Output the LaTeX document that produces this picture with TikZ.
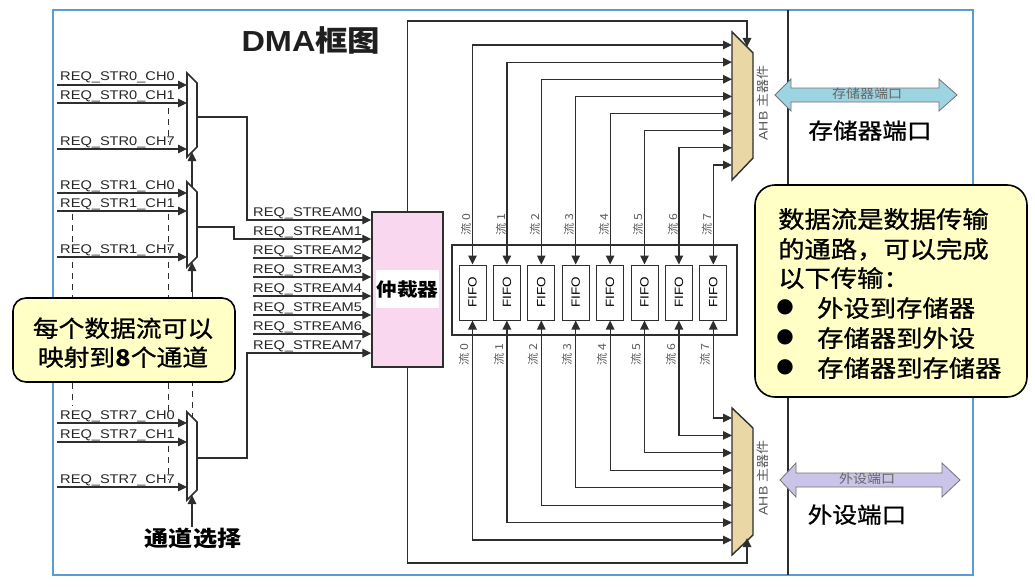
\documentclass[tikz,border=0pt]{standalone}
\usepackage{fontspec}
\setmainfont{Liberation Sans}
\newfontfamily\cjk{Noto Sans CJK SC}
\newfontfamily\cjkm[FakeBold=0.9]{Noto Sans CJK SC}
\newfontfamily\dejavu{DejaVu Sans}
\usetikzlibrary{arrows.meta,calc}
\definecolor{frameblue}{HTML}{5B9BD5}
\definecolor{arbpink}{HTML}{F9D7EE}
\definecolor{ahbtan}{HTML}{E9D7A6}
\definecolor{noteyellow}{HTML}{FFFFC6}
\definecolor{portblue}{HTML}{9DD4E2}
\definecolor{portlav}{HTML}{C9C4E8}
\definecolor{wirec}{HTML}{2E2E2E}
\definecolor{lblc}{HTML}{5A5A5A}
\newcommand\hs[1]{\scalebox{1.12}[1]{#1}}
\newcommand\reqs[1]{\scalebox{1.16}[1]{#1}}
\begin{document}
\begin{tikzpicture}[x=1pt,y=-1pt,
  wire/.style={draw=wirec, line width=1.2pt},
  arr/.style={wire, -{Triangle[length=9pt,width=8.5pt]}},
  barr/.style={wire, {Triangle[length=9pt,width=8.5pt]}-{Triangle[length=9pt,width=8.5pt]}},
  dsh/.style={draw=wirec, line width=1pt, dash pattern=on 6pt off 5pt},
  req/.style={inner sep=0pt, anchor=base west, text=black!85, font=\fontsize{12.6}{14}\selectfont},
  muxst/.style={draw=wirec, fill=white, line width=1.6pt},
  fifo/.style={draw=wirec, fill=white, line width=1pt, minimum width=27pt, minimum height=55pt, inner sep=0pt, font=\fontsize{12}{13}\selectfont},
  slbl/.style={inner sep=0pt, text=lblc, font=\cjk\fontsize{11}{12}\selectfont},
  note/.style={draw=black, fill=noteyellow, line width=1.6pt},
  cjkline/.style={inner sep=0pt, anchor=base west, text=black, font=\cjkm\fontsize{23.5}{26}\selectfont},
]
\useasboundingbox (0,0) rectangle (1035,586);
\fill[white] (0,0) rectangle (1035,586);
% frame
\draw[frameblue, line width=2pt] (53,10) rectangle (973,575);
\draw[wirec, line width=1.4pt] (788,10) -- (788,575);
% title
\node[anchor=base, inner sep=0pt, text=black!88] (title) at (311,52)
  {\hs{\fontsize{29}{30}\selectfont\bfseries DMA\cjk 框图}};

% ---------- channel multiplexers ----------
\draw[muxst] (187,73) -- (197,83) -- (197,147) -- (187,157) -- cycle;
\draw[muxst] (187,182) -- (197,192) -- (197,257) -- (187,267) -- cycle;
\draw[muxst] (187,412) -- (197,422) -- (197,490) -- (187,500) -- cycle;
\coordinate (m0out) at (197,117);
\coordinate (m1out) at (197,227);
\coordinate (m7out) at (197,458);

% inputs
\foreach \y/\t in {85/REQ\_STR0\_CH0, 103/REQ\_STR0\_CH1, 149/REQ\_STR0\_CH7,
                   193/REQ\_STR1\_CH0, 211/REQ\_STR1\_CH1, 257/REQ\_STR1\_CH7,
                   423/REQ\_STR7\_CH0, 442/REQ\_STR7\_CH1, 487/REQ\_STR7\_CH7}{
  \coordinate (in\y) at (57,\y);
  \coordinate (mx\y) at (187,\y);
  \draw[arr] (in\y) -- (mx\y);
  \node[req] (lab\y) at (60,{\y-4}) {\reqs{\t}};
}
% dashed continuation marks
\draw[dsh] (168,108) -- (168,142);
\draw[dsh] (168,214) -- (168,250);
\draw[dsh] (168,262) -- (168,415);
\draw[dsh] (168,446) -- (168,480);
\draw[dsh] (72,214) -- (72,242);
\draw[dsh] (72,262) -- (72,406);
% channel select
\coordinate (sel0) at (192,152);
\coordinate (sel1) at (192,262);
\coordinate (sel7) at (192,495);
\coordinate (m1top) at (192,187);
\coordinate (m7top) at (192,417);
\coordinate (selmid) at (192,292);
\coordinate (selbot) at (192,527);
\draw[arr] (m1top) -- (sel0);
\draw[arr] (selmid) -- (sel1);
\draw[dsh] (selmid) -- (m7top);
\draw[arr] (selbot) -- (sel7);
\node[anchor=base, inner sep=0pt, font=\cjk\bfseries\fontsize{21.5}{22}\selectfont] (selname) at (193,546) {\hs{通道选择}};

% ---------- arbiter ----------
\node[draw=wirec, fill=arbpink, line width=1.4pt, minimum width=71pt, minimum height=155pt, inner sep=0pt] (arb) at (407.5,289.5) {};
\node[fill=white, minimum width=61pt, minimum height=38pt, inner sep=0pt, font=\cjk\bfseries\fontsize{18.5}{19}\selectfont] (arbtxt) at (407.5,289) {\hs{仲裁器}};

\foreach \i in {0,...,7}{
  \pgfmathsetmacro\yy{220+19*\i}
  \node[req, font=\fontsize{12.6}{14}\selectfont] (rs\i) at (253,{\yy-4}) {\reqs{REQ\_STREAM\i}};
  \coordinate (arbin\i) at (arb.west |- 0,\yy);
}
\draw[arr] (m0out) -- (247,117) -- (247,220) -- (arbin0);
\draw[arr] (m1out) -- (234,227) -- (234,239) -- (arbin1);
\draw[arr] (m7out) -- (247,458) -- (247,353) -- (arbin7);
\foreach \i in {2,...,6}{
  \pgfmathsetmacro\yy{220+19*\i}
  \coordinate (rsst\i) at (253,\yy);
  \draw[arr] (rsst\i) -- (arbin\i);
}

% ---------- AHB masters ----------
\draw[draw=wirec, fill=ahbtan, line width=1.4pt] (732,32) -- (753,53) -- (753,158) -- (732,180) -- cycle;
\draw[draw=wirec, fill=ahbtan, line width=1.4pt] (732,408) -- (753,428) -- (753,535) -- (732,555) -- cycle;
\node[rotate=90, inner sep=0pt, text=lblc, font=\fontsize{12.5}{13}\selectfont] (ahbT) at (763,103) {\hs{AHB {\cjk 主器件}}};
\node[rotate=90, inner sep=0pt, text=lblc, font=\fontsize{12.5}{13}\selectfont] (ahbB) at (763,478) {\hs{AHB {\cjk 主器件}}};
\coordinate (ahbTtop) at (747,47);
\coordinate (ahbBbot) at (747,538);
\draw[arr] (arb.north) -- (407.5,21) -- (747,21) -- (ahbTtop);
\draw[arr] (arb.south) -- (407.5,563) -- (747,563) -- (ahbBbot);

% ---------- FIFOs ----------
\node[draw=wirec, line width=1.2pt, minimum width=285pt, minimum height=90pt, inner sep=0pt] (fbox) at (594.5,290) {};
\foreach \i in {0,...,7}{
  \pgfmathsetmacro\xx{472.5+34.4*\i}
  \pgfmathsetmacro\yt{45+17.14*\i}
  \pgfmathsetmacro\yb{540-17.43*\i}
  \node[fifo] (f\i) at (\xx,292.5) {\rotatebox{90}{\scalebox{1.12}[1]{FIFO}}};
  \coordinate (tin\i) at (732,\yt);
  \coordinate (bin\i) at (732,\yb);
  \draw[barr] (f\i.north) -- (\xx,\yt) -- (tin\i);
  \draw[barr] (f\i.south) -- (\xx,\yb) -- (bin\i);
  \node[slbl] (st\i) at ({\xx-6},225) {\rotatebox{90}{\hs{流 \i}}};
  \node[slbl] (sb\i) at ({\xx-8},355) {\rotatebox{90}{\hs{流 \i}}};
}

% ---------- ports ----------
\draw[draw=black!55, fill=portblue, line width=0.8pt] (775,95) -- (791,79) -- (791,88) -- (939,88) -- (939,79) -- (957,95) -- (939,111) -- (939,102) -- (791,102) -- (791,111) -- cycle;
\node[inner sep=0pt, text=black!60, font=\cjk\fontsize{12.5}{13}\selectfont] (memp) at (867,94) {\hs{存储器端口}};
\node[anchor=base, inner sep=0pt, font=\cjkm\fontsize{22}{23}\selectfont] (memlbl) at (870,139) {\hs{存储器端口}};
\draw[draw=black!55, fill=portlav, line width=0.8pt] (780,480) -- (796,463) -- (796,473) -- (942,473) -- (942,463) -- (960,480) -- (942,497) -- (942,487) -- (796,487) -- (796,497) -- cycle;
\node[inner sep=0pt, text=black!60, font=\cjk\fontsize{12.5}{13}\selectfont] (perp) at (867,479) {\hs{外设端口}};
\node[anchor=base, inner sep=0pt, font=\cjkm\fontsize{22}{23}\selectfont] (perlbl) at (857,523) {\hs{外设端口}};

% ---------- notes ----------
\node[note, rounded corners=13pt, minimum width=222pt, minimum height=84pt] (noteL) at (124,340) {};
\node[anchor=base, inner sep=0pt, font=\cjkm\fontsize{23}{24}\selectfont] (nl1) at (123,337) {\hs{每个数据流可以}};
\node[anchor=base, inner sep=0pt, font=\cjkm\fontsize{23}{24}\selectfont] (nl2) at (123,366) {\hs{映射到{\cjk\bfseries 8}个通道}};

\node[note, rounded corners=20pt, minimum width=272pt, minimum height=212pt] (noteR) at (891,291) {};
\node[cjkline] (nr1) at (778,228) {\hs{数据流是数据传输}};
\node[cjkline] (nr2) at (778,258) {\hs{的通路，可以完成}};
\node[cjkline] (nr3) at (778,287) {\hs{以下传输：}};
\node[cjkline] (nr4) at (817,317) {\hs{外设到存储器}};
\node[cjkline] (nr5) at (817,347) {\hs{存储器到外设}};
\node[cjkline] (nr6) at (817,377) {\hs{存储器到存储器}};
\foreach \y in {307,337,367}{
  \node[inner sep=0pt, font=\dejavu\fontsize{20}{20}\selectfont] (b\y) at (785,\y) {●};
}
\end{tikzpicture}
\end{document}
